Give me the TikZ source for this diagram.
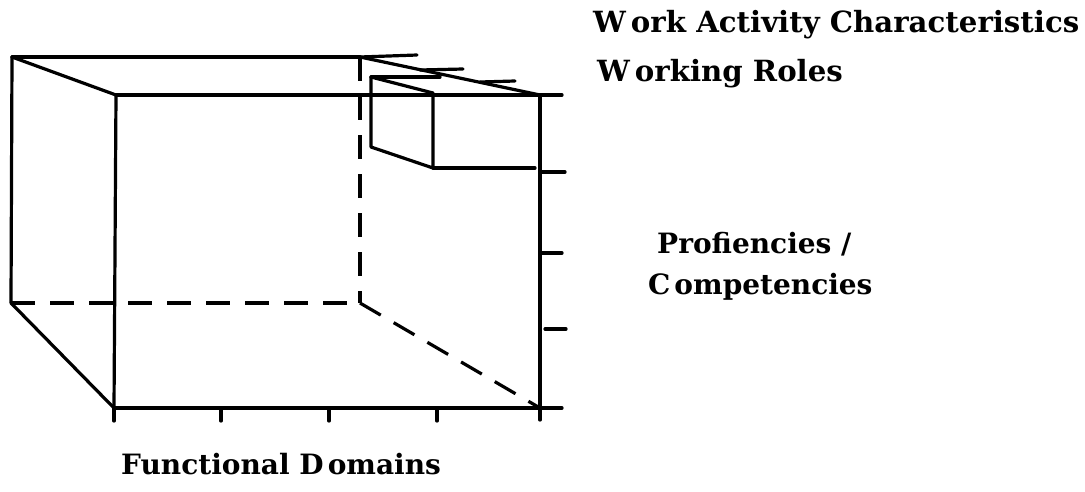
\documentclass[tikz,border=0pt]{standalone}
\usepackage{fontspec}
\setmainfont{DejaVu Serif}
\begin{document}
\begin{tikzpicture}[x=1pt,y=-1pt,
  edge/.style={line width=3.2pt,line cap=round,line join=round},
  hidden/.style={line width=3.2pt,dash pattern=on 24pt off 15pt},
  lbl/.style={anchor=base west,inner sep=0pt,font=\bfseries\fontsize{28}{32}\selectfont},
  biglbl/.style={lbl,font=\bfseries\fontsize{29.2}{33}\selectfont}]
\useasboundingbox (0,0) rectangle (1085,491);

% corners of the large box
\coordinate (btl) at (12,57);
\coordinate (bbl) at (11,303);
\coordinate (ftl) at (116,95);
\coordinate (fbl) at (114,408);
\coordinate (ftr) at (540,95);
\coordinate (fbr) at (540,408);
\coordinate (btr) at (360,57);
\coordinate (bbr) at (360,303);

% visible edges
\draw[edge] (btl) -- (btr);
\draw[edge] (btl) -- (ftl);
\draw[edge] (btl) -- (bbl);
\draw[edge] (ftl) -- (fbl);
\draw[edge] (bbl) -- (fbl);
\draw[edge] (btr) -- (ftr);
\coordinate (topend) at (562,95);
\draw[edge] (ftl) -- (topend);
\coordinate (rightend) at (540,420);
\draw[edge] (ftr) -- (rightend);
\coordinate (bottomend) at (562,408);
\draw[edge] (fbl) -- (bottomend);

% hidden edges
\draw[hidden] (btr) -- (bbr);
\draw[hidden] (bbl) -- (bbr);
\draw[hidden] (bbr) -- (fbr);

% ticks on the bottom axis
\foreach \x in {114,221,329,437}
  \draw[edge] (\x,408) -- (\x,421);

% ticks on the right axis
\foreach \y/\a/\b in {172/540/565, 253/540/562, 329/545/566}
  \draw[edge] (\a,\y) -- (\b,\y);

% ticks along the depth edge
\coordinate (d1) at (420,70);
\coordinate (d2) at (480,82);
\draw[edge] (btr) -- (417,55);
\draw[edge] (d1) -- (463,69);
\draw[edge] (d2) -- (515,81);

% small box
\coordinate (sbtl) at (371,77);
\coordinate (sbbl) at (371,147);
\coordinate (sftl) at (433,93);
\coordinate (sfbl) at (433,168);
\draw[edge] (sbtl) -- (sbbl) -- (sfbl) -- (sftl);
\draw[edge] (sbtl) -- (sftl);
\draw[edge] (sbtl) -- (440,77);
\draw[edge] (sfbl) -- (535,168);

% labels
\node[biglbl] (wac) at (593,32) {W\kern5pt ork Activity Characteristics};
\node[biglbl] (wr) at (597,81) {W\kern5pt orking Roles};
\node[lbl] (pc1) at (657,253) {Profiencies /};
\node[lbl] (pc2) at (648,294) {C\kern4pt ompetencies};
\node[lbl] (fd) at (121,474) {Functional D\kern4pt omains};
\end{tikzpicture}
\end{document}
